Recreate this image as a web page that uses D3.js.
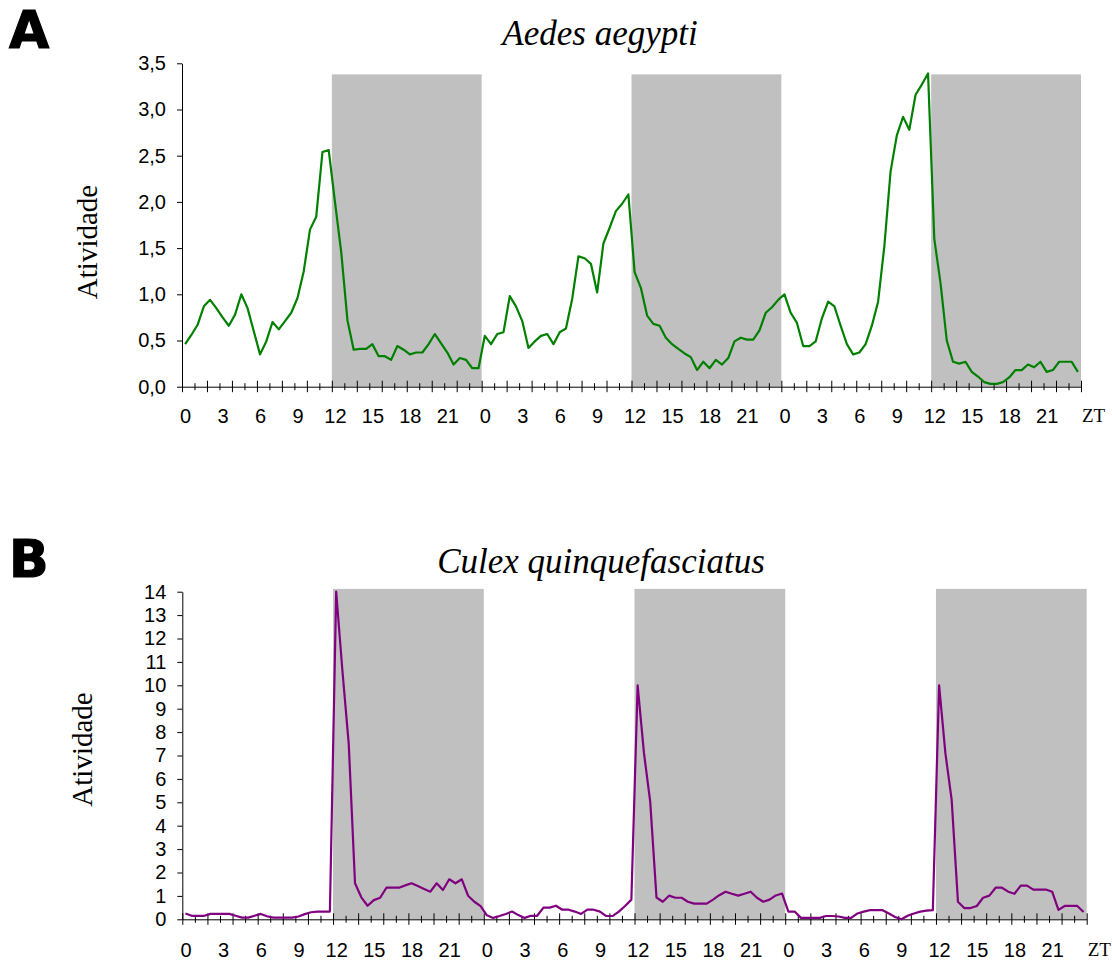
<!DOCTYPE html>
<html>
<head>
<meta charset="utf-8">
<script src="https://cdn.jsdelivr.net/npm/d3@7"></script>
<style>
  html, body { margin: 0; padding: 0; background: #fff; }
  svg { display: block; }
</style>
</head>
<body>
<script>
// ---------------- DATA ----------------
const ztLabels = ["0", "3", "6", "9", "12", "15", "18", "21"];
const nDays = 3;
const stepsPerHour = 2;           // half-hour samples
const darkStarts = [24, 72, 120]; // category index where dark phase starts (ZT12)
const darkLength = 24;            // 12 h of half-hour categories

const aedesTitle = "Aedes aegypti";
const culexTitle = "Culex quinquefasciatus";
const yLabel = "Atividade";
const xUnitLabel = "ZT";

const aedesValues = [
  0.46,0.56,0.67,0.87,0.94,0.85,0.75,0.66,0.78,1.00,0.85,0.60,0.35,0.49,0.70,0.62,0.71,0.80,0.96,1.25,1.70,1.84,2.54,2.56,
  2.00,1.46,0.72,0.40,0.41,0.41,0.46,0.33,0.33,0.29,0.44,0.40,0.35,0.37,0.37,0.46,0.57,0.47,0.37,0.24,0.31,0.29,0.20,0.20,
  0.55,0.46,0.57,0.59,0.98,0.87,0.71,0.42,0.49,0.55,0.57,0.46,0.59,0.63,0.95,1.41,1.39,1.33,1.02,1.55,1.72,1.90,1.98,2.08,
  1.24,1.07,0.77,0.68,0.66,0.53,0.46,0.41,0.36,0.32,0.18,0.27,0.20,0.29,0.24,0.31,0.49,0.53,0.51,0.51,0.61,0.80,0.86,0.94,
  1.00,0.80,0.69,0.44,0.44,0.49,0.74,0.92,0.87,0.66,0.46,0.35,0.37,0.46,0.66,0.92,1.52,2.33,2.72,2.92,2.78,3.16,3.27,3.39,
  1.60,1.12,0.50,0.27,0.25,0.27,0.16,0.11,0.05,0.03,0.03,0.05,0.10,0.18,0.18,0.24,0.21,0.27,0.16,0.18,0.27,0.27,0.27,0.16
];

const culexValues = [
  0.25,0.15,0.15,0.15,0.23,0.23,0.23,0.23,0.15,0.07,0.07,0.15,0.23,0.13,0.07,0.07,0.07,0.07,0.12,0.22,0.30,0.33,0.33,0.33,
  14.0,10.6,7.5,1.54,0.94,0.58,0.82,0.92,1.35,1.35,1.35,1.45,1.54,1.42,1.30,1.18,1.54,1.25,1.71,1.54,1.71,1.01,0.75,0.56,
  0.17,0.06,0.14,0.23,0.33,0.18,0.06,0.15,0.15,0.50,0.50,0.58,0.41,0.41,0.33,0.23,0.41,0.41,0.33,0.14,0.14,0.33,0.57,0.84,
  10.0,7.12,5.03,0.93,0.75,1.01,0.92,0.92,0.75,0.67,0.67,0.67,0.84,1.03,1.18,1.09,1.01,1.09,1.18,0.92,0.75,0.84,1.02,1.10,
  0.33,0.33,0.06,0.06,0.06,0.06,0.14,0.14,0.12,0.06,0.06,0.25,0.33,0.39,0.39,0.39,0.25,0.10,0.00,0.15,0.25,0.33,0.37,0.39,
  10.0,7.1,5.1,0.75,0.48,0.48,0.57,0.92,1.01,1.35,1.35,1.18,1.09,1.44,1.44,1.27,1.27,1.27,1.18,0.40,0.57,0.57,0.57,0.31
];

const yTicksA = [0, 0.5, 1.0, 1.5, 2.0, 2.5, 3.0, 3.5];
const yTicksB = [0,1,2,3,4,5,6,7,8,9,10,11,12,13,14];
const darkTopA = 3.38;
const darkTopB = 14.12;

// ---------------- DRAWING ----------------
const W = 1112, H = 963;
const SANS = "'Liberation Sans', Arial, sans-serif";
const SERIF = "'Liberation Serif', 'Times New Roman', serif";
const nCat = nDays * 24 * stepsPerHour;

const svg = d3.select("body").append("svg")
  .attr("width", W).attr("height", H)
  .attr("viewBox", `0 0 ${W} ${H}`);

const commaFmt = d => d3.format(".1f")(d).replace(".", ",");
const intFmt = d3.format("d");

function drawPanel(cfg) {
  const x = d3.scaleLinear().domain([0, nCat]).range([cfg.x0, cfg.x1]);
  const y = d3.scaleLinear().domain([0, cfg.yMax]).range([cfg.yBottom, cfg.yTop]);
  const g = svg.append("g");

  // dark phases
  g.selectAll("rect.dark").data(darkStarts).join("rect")
    .attr("class", "dark")
    .attr("x", d => x(d))
    .attr("width", d => x(d + darkLength) - x(d))
    .attr("y", y(cfg.darkTop))
    .attr("height", y(0) - y(cfg.darkTop))
    .attr("fill", "#c0c0c0");

  // y axis
  const ya = g.append("g")
    .attr("transform", `translate(${cfg.x0},0)`)
    .call(d3.axisLeft(y).tickValues(cfg.yTicks).tickFormat(cfg.fmt)
      .tickSize(5).tickSizeOuter(0).tickPadding(11));
  ya.select(".domain").attr("stroke", "#000").attr("stroke-width", 1);
  ya.selectAll(".tick line").attr("stroke", "#000");
  ya.selectAll("text").attr("font-family", SANS).attr("font-size", 20).attr("fill", "#000");

  // x axis: hour ticks, crossing the axis
  const hourTicks = d3.range(0, nCat + 1, stepsPerHour);
  const xa = g.append("g")
    .attr("transform", `translate(0,${cfg.yBottom})`)
    .call(d3.axisBottom(x).tickValues(hourTicks).tickFormat("")
      .tickSize(0).tickSizeOuter(0));
  xa.select(".domain").attr("stroke", "#000").attr("stroke-width", 1);
  xa.selectAll(".tick line")
    .attr("stroke", "#000")
    .attr("y1", d => (d % (2 * stepsPerHour) === 0) ? -6 : -3.5)
    .attr("y2", d => (d % (2 * stepsPerHour) === 0) ? 5.5 : 3.5);

  // x labels every 3 hours, centred on the category
  const labelCats = d3.range(0, nCat, 3 * stepsPerHour).map(c => c + 0.5);
  const xl = g.append("g")
    .attr("transform", `translate(0,${cfg.yBottom})`)
    .call(d3.axisBottom(x).tickValues(labelCats)
      .tickFormat((d, i) => ztLabels[i % ztLabels.length])
      .tickSize(0).tickSizeOuter(0));
  xl.select(".domain").remove();
  xl.selectAll("text")
    .attr("font-family", SANS).attr("font-size", 20).attr("fill", "#000")
    .attr("y", cfg.labelBaseline - cfg.yBottom).attr("dy", null);

  // ZT
  g.append("text")
    .attr("x", cfg.x1 + 1).attr("y", cfg.labelBaseline - 1)
    .attr("font-family", SERIF).attr("font-size", 19).attr("fill", "#000")
    .text(xUnitLabel);

  // line
  const line = d3.line()
    .x((d, i) => x(i + 0.5))
    .y(d => y(d));
  g.append("path")
    .datum(cfg.values)
    .attr("d", line)
    .attr("fill", "none")
    .attr("stroke", cfg.color)
    .attr("stroke-width", 2.2)
    .attr("stroke-linejoin", "round");

  // title
  g.append("text")
    .attr("x", cfg.titleX).attr("y", cfg.titleY)
    .attr("text-anchor", "middle")
    .attr("font-family", SERIF).attr("font-style", "italic")
    .attr("font-size", 35).attr("fill", "#000")
    .text(cfg.title);

  // y label
  g.append("text")
    .attr("transform", `translate(${cfg.yLabelX},${cfg.yLabelY}) rotate(-90)`)
    .attr("text-anchor", "middle")
    .attr("font-family", SERIF).attr("font-size", 29).attr("fill", "#000")
    .text(yLabel);

  // panel letter
  g.append("text")
    .attr("x", 9).attr("y", cfg.letterY)
    .attr("font-family", "'DejaVu Sans', sans-serif").attr("font-weight", "bold")
    .attr("font-size", 52).attr("fill", "#000")
    .attr("stroke", "#000").attr("stroke-width", 1.2)
    .text(cfg.letter);
}

drawPanel({
  values: aedesValues, color: "#008000",
  x0: 182, x1: 1081, yBottom: 386.7, yTop: 63.3, yMax: 3.5,
  yTicks: yTicksA, fmt: commaFmt, darkTop: darkTopA,
  labelBaseline: 423, title: aedesTitle, titleX: 600, titleY: 45,
  yLabelX: 97, yLabelY: 242, letter: "A", letterY: 48
});

drawPanel({
  values: culexValues, color: "#800080",
  x0: 182.3, x1: 1086.7, yBottom: 919.3, yTop: 591.7, yMax: 14,
  yTicks: yTicksB, fmt: intFmt, darkTop: darkTopB,
  labelBaseline: 957, title: culexTitle, titleX: 601, titleY: 573,
  yLabelX: 92, yLabelY: 749.5, letter: "B", letterY: 577
});
</script>
</body>
</html>
